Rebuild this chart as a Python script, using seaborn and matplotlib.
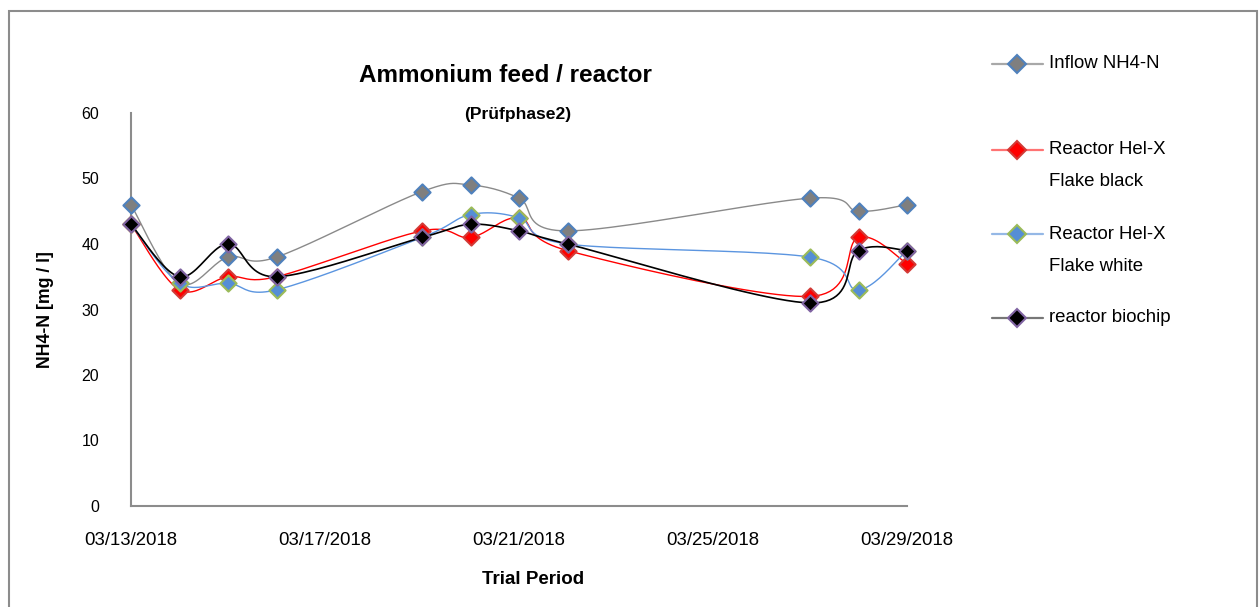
import numpy as np
import pandas as pd
import seaborn as sns
import matplotlib.pyplot as plt
import matplotlib.dates as mdates
from matplotlib.lines import Line2D
from matplotlib.patches import Rectangle

# Data
dates = ['2018-03-13', '2018-03-14', '2018-03-15', '2018-03-16', '2018-03-19', '2018-03-20',
         '2018-03-21', '2018-03-22', '2018-03-27', '2018-03-28', '2018-03-29']
inflow = [46, 34, 38, 38, 48, 49, 47, 42, 47, 45, 46]
helx_black = [43, 33, 35, 35, 42, 41, 44, 39, 32, 41, 37]
helx_white = [43, 34, 34, 33, 41, 44.5, 44, 40, 38, 33, 39]
biochip = [43, 35, 40, 35, 41, 43, 42, 40, 31, 39, 39]

series_names = ['Inflow NH4-N', 'Reactor Hel-X\nFlake black', 'Reactor Hel-X\nFlake white', 'reactor biochip']
y_ticks = [0, 10, 20, 30, 40, 50, 60]
x_ticks = ['2018-03-13', '2018-03-17', '2018-03-21', '2018-03-25', '2018-03-29']

# line colour, marker fill, marker edge, legend line colour
styles = [
    ('#8a8a8a', '#7f7f7f', '#4f81bd', '#a8a8a8'),
    ('#ff0000', '#ff0000', '#d23a36', '#ff7373'),
    ('#5b95e0', '#558ed5', '#9bbb59', '#95b8e6'),
    ('#000000', '#000000', '#8064a2', '#777777'),
]


def smooth_curve(x, y, steps=24):
    """Excel-like smoothed line (Catmull-Rom style Bezier through the points)"""
    pts = np.column_stack([x, y]).astype(float)
    n = len(pts)
    out = []
    for i in range(n - 1):
        p0 = pts[i - 1] if i > 0 else pts[i]
        p1 = pts[i]
        p2 = pts[i + 1]
        p3 = pts[i + 2] if i + 2 < n else pts[i + 1]
        c1 = p1 + (p2 - p0) / 6
        c2 = p2 - (p3 - p1) / 6
        t = np.linspace(0, 1, steps)[:, None]
        seg = (1 - t) ** 3 * p1 + 3 * (1 - t) ** 2 * t * c1 + 3 * (1 - t) * t ** 2 * c2 + t ** 3 * p2
        out.append(seg if i == 0 else seg[1:])
    out = np.vstack(out)
    return out[:, 0], out[:, 1]


sns.set_style('white')
plt.rcParams['font.family'] = ['Liberation Sans', 'DejaVu Sans']
plt.rcParams['text.color'] = 'black'
plt.rcParams['xtick.labelcolor'] = 'black'
plt.rcParams['ytick.labelcolor'] = 'black'

fig = plt.figure(figsize=(12.6, 6.07), dpi=100)
ax = fig.add_axes([131 / 1260, 1 - 506 / 607, (907 - 131) / 1260, (506 - 113) / 607])

xnum = mdates.date2num(pd.to_datetime(dates))
all_series = [inflow, helx_black, helx_white, biochip]
lws = [1.0, 1.0, 1.0, 1.2]

for k, (vals, st) in enumerate(zip(all_series, styles)):
    sx, sy = smooth_curve(xnum, vals)
    sns.lineplot(x=sx, y=sy, sort=False, estimator=None, color=st[0], lw=lws[k], ax=ax, zorder=2 + 2 * k)
    sns.scatterplot(x=xnum, y=vals, marker='D', s=68, color=st[1], edgecolor=st[2],
                    linewidth=1.5, ax=ax, zorder=3 + 2 * k, clip_on=False)

ax.set_xlim(xnum[0], xnum[-1])
ax.set_ylim(0, 60)
ax.set_yticks(y_ticks)
ax.set_xticks(mdates.date2num(pd.to_datetime(x_ticks)))
ax.xaxis.set_major_formatter(mdates.DateFormatter('%m/%d/%Y'))

for s in ['top', 'right']:
    ax.spines[s].set_visible(False)
for s in ['left', 'bottom']:
    ax.spines[s].set_color('#8c8c8c')
    ax.spines[s].set_linewidth(1.5)
ax.tick_params(axis='y', direction='out', length=6, width=1.5, color='#8c8c8c', pad=17, labelsize=11.5)
ax.tick_params(axis='x', direction='out', length=6, width=1.5, color='#8c8c8c', pad=13, labelsize=13.4)
ax.grid(False)
ax.set_xlabel('')
ax.set_ylabel('')

# titles and axis labels
fig.text(505 / 1260, 1 - 75 / 607, 'Ammonium feed / reactor', ha='center', va='center',
         fontsize=17.5, fontweight='bold')
fig.text(518 / 1260, 1 - 114 / 607, '(Prüfphase2)', ha='center', va='center',
         fontsize=12.6, fontweight='bold')
fig.text(45 / 1260, 1 - 310 / 607, 'NH4-N [mg / l]', ha='center', va='center', rotation=90,
         fontsize=12.7, fontweight='bold')
fig.text(533 / 1260, 1 - 580 / 607, 'Trial Period', ha='center', va='center',
         fontsize=13.5, fontweight='bold')

# legend drawn by hand so the marker sits on the first text line
legend_y = [64, 150, 234, 318]
for name, st, ly in zip(series_names, styles, legend_y):
    yf = 1 - ly / 607
    fig.add_artist(Line2D([992 / 1260, 1043 / 1260], [yf, yf], color=st[3], lw=1.6,
                          transform=fig.transFigure))
    fig.add_artist(Line2D([1017 / 1260], [yf], marker='D', markersize=9.5, color=st[1],
                          markeredgecolor=st[2], markeredgewidth=1.5, lw=0,
                          transform=fig.transFigure))
    for j, line in enumerate(name.split('\n')):
        fig.text(1049 / 1260, 1 - (ly + 32 * j) / 607, line, ha='left', va='center', fontsize=13.4)

# outer chart border
fig.add_artist(Rectangle((9 / 1260, -0.05), (1257 - 9) / 1260, 1.05 - 11 / 607, fill=False,
                         edgecolor='#8c8c8c', lw=1.5, transform=fig.transFigure))

fig.savefig('out.png', dpi=100)
